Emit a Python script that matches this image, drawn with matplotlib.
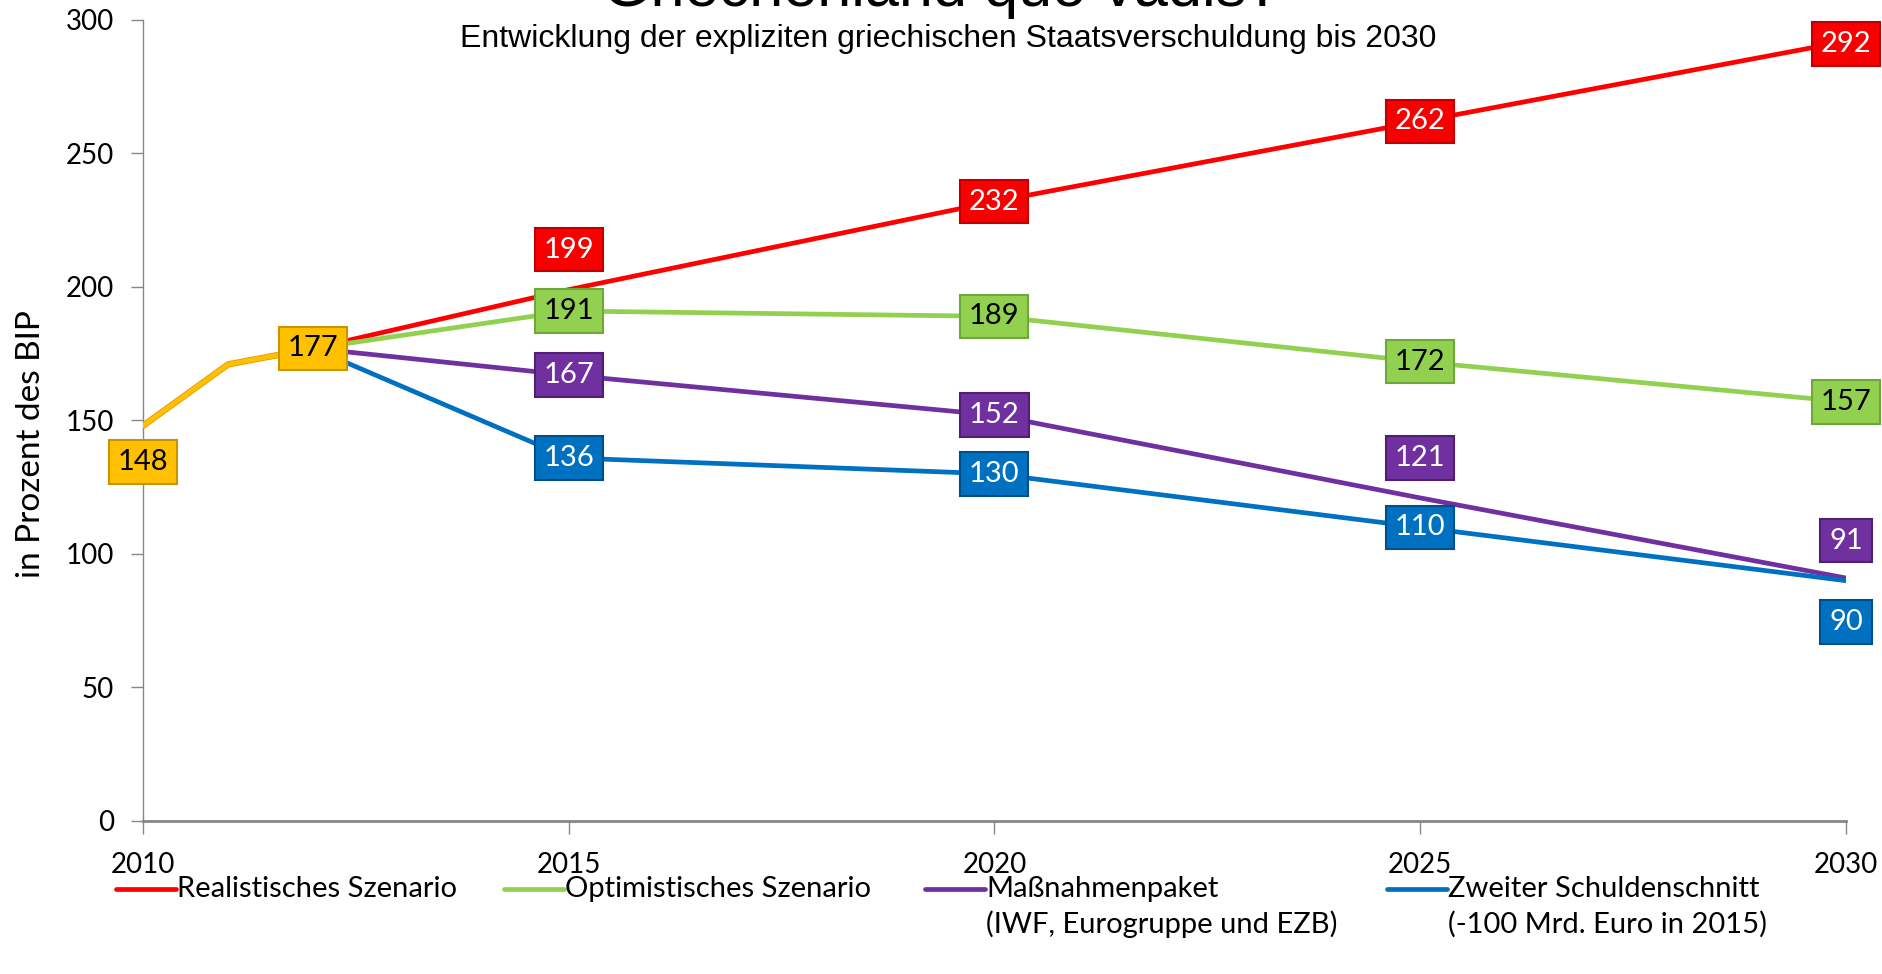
import matplotlib
matplotlib.use("Agg")
import matplotlib.pyplot as plt
from matplotlib.lines import Line2D
import matplotlib.patheffects as pe

# ---- data ----
years_hist = [2010, 2011, 2012]
hist_values = [148, 171, 177]
years_scen = [2012, 2015, 2020, 2025, 2030]
realistic = [177, 199, 232, 262, 292]
optimistic = [177, 191, 189, 172, 157]
massnahmen = [177, 167, 152, 121, 91]
schuldenschnitt = [177, 136, 130, 110, 90]
x_ticks = [2010, 2015, 2020, 2025, 2030]
y_ticks = [0, 50, 100, 150, 200, 250, 300]
legend_labels = ["Realistisches Szenario", "Optimistisches Szenario",
                 "Maßnahmenpaket\n(IWF, Eurogruppe und EZB)",
                 "Zweiter Schuldenschnitt\n(-100 Mrd. Euro in 2015)"]

# ---- style ----
C_RED, C_GREEN, C_PURPLE, C_BLUE, C_GOLD = "#FF0000", "#92D050", "#7030A0", "#0070C0", "#FFC000"
BODY = "Lato"
ARIAL = "Liberation Sans"

fig = plt.figure(figsize=(18.83, 9.74), dpi=100)
ax = fig.add_axes([0.0759, 0.1571, 0.9044, 0.8224])

lw = 3.4
ax.plot(years_hist, hist_values, color=C_GOLD, lw=lw, solid_capstyle="round",
        path_effects=[pe.Stroke(linewidth=lw + 1.2, foreground="#E29A00"), pe.Normal()], zorder=3)
series = [(realistic, C_RED), (optimistic, C_GREEN), (massnahmen, C_PURPLE), (schuldenschnitt, C_BLUE)]
for vals, col in series:
    ax.plot(years_scen, vals, color=col, lw=lw, solid_capstyle="round", zorder=2)

def label(x, y, text, face, edge, tcol, dy=0.0):
    ax.text(x, y + dy, text, ha="center", va="center", fontsize=21, family=BODY,
            color=tcol, zorder=5, clip_on=False,
            bbox=dict(boxstyle="square,pad=0.3", facecolor=face, edgecolor=edge, linewidth=1.5))

# historical labels
label(years_hist[0], hist_values[0], str(hist_values[0]), "#FFC000", "#C99400", "black", dy=-13.5)
label(years_hist[2], hist_values[2], str(hist_values[2]), "#FFC000", "#C99400", "black")

# scenario labels (skip 2012 start point)
offs_real = [0, 15, 0, 0, -1]
offs_opt = [0, 0, 0, 0, 0]
offs_mass = [0, 0, 0, 15, 14]
offs_blue = [0, 0, 0, 0, -15.5]
for vals, face, edge, tcol, offs in [
    (realistic, "#F80000", "#C00000", "white", offs_real),
    (optimistic, "#92D050", "#6FA83A", "black", offs_opt),
    (massnahmen, "#7030A0", "#4F2072", "white", offs_mass),
    (schuldenschnitt, "#0070C0", "#004F8A", "white", offs_blue),
]:
    for x, v, o in zip(years_scen[1:], vals[1:], offs[1:]):
        label(x, v, str(v), face, edge, tcol, dy=o)

ax.set_xlim(2010, 2030)
ax.set_ylim(0, 300)
ax.set_xticks(x_ticks)
ax.set_yticks(y_ticks)
ax.set_xticklabels([str(t) for t in x_ticks], fontsize=20, family=BODY)
ax.set_yticklabels([str(t) for t in y_ticks], fontsize=20, family=BODY)
ax.tick_params(axis="both", direction="out", length=9, width=1, color="#868686")
ax.tick_params(axis="x", pad=13)
ax.tick_params(axis="y", pad=12)
for s in ["top", "right"]:
    ax.spines[s].set_visible(False)
ax.spines["left"].set_color("#868686")
ax.spines["left"].set_linewidth(1)
ax.spines["bottom"].set_color("#868686")
ax.spines["bottom"].set_linewidth(2)
ax.set_ylabel("in Prozent des BIP", fontsize=24, family=BODY)
ax.yaxis.set_label_coords(-0.057, 0.471)

# titles
fig.text(0.5003, 1 - 6 / 974, "Griechenland quo vadis?", ha="center", va="baseline",
         fontsize=44, family=ARIAL)
fig.text(0.5035, 1 - 39 / 974, "Entwicklung der expliziten griechischen Staatsverschuldung bis 2030",
         ha="center", va="center", fontsize=23, family=ARIAL)

# legend (manual)
W, H = 1883, 974
starts = [116, 504, 925, 1387]
cols = [C_RED, C_GREEN, C_PURPLE, C_BLUE]
y1 = 889
for x0, col, lab in zip(starts, cols, legend_labels):
    fig.add_artist(Line2D([x0 / W, (x0 + 60) / W], [1 - y1 / H, 1 - y1 / H], color=col, lw=3.4,
                          solid_capstyle="round"))
    lines = lab.split("\n")
    fig.text((x0 + 61) / W, 1 - y1 / H, lines[0], ha="left", va="center", fontsize=21, family=BODY)
    if len(lines) > 1:
        fig.text((x0 + 61) / W, 1 - (y1 + 35) / H, lines[1], ha="left", va="center", fontsize=21, family=BODY)

fig.savefig("out.png", dpi=100)
